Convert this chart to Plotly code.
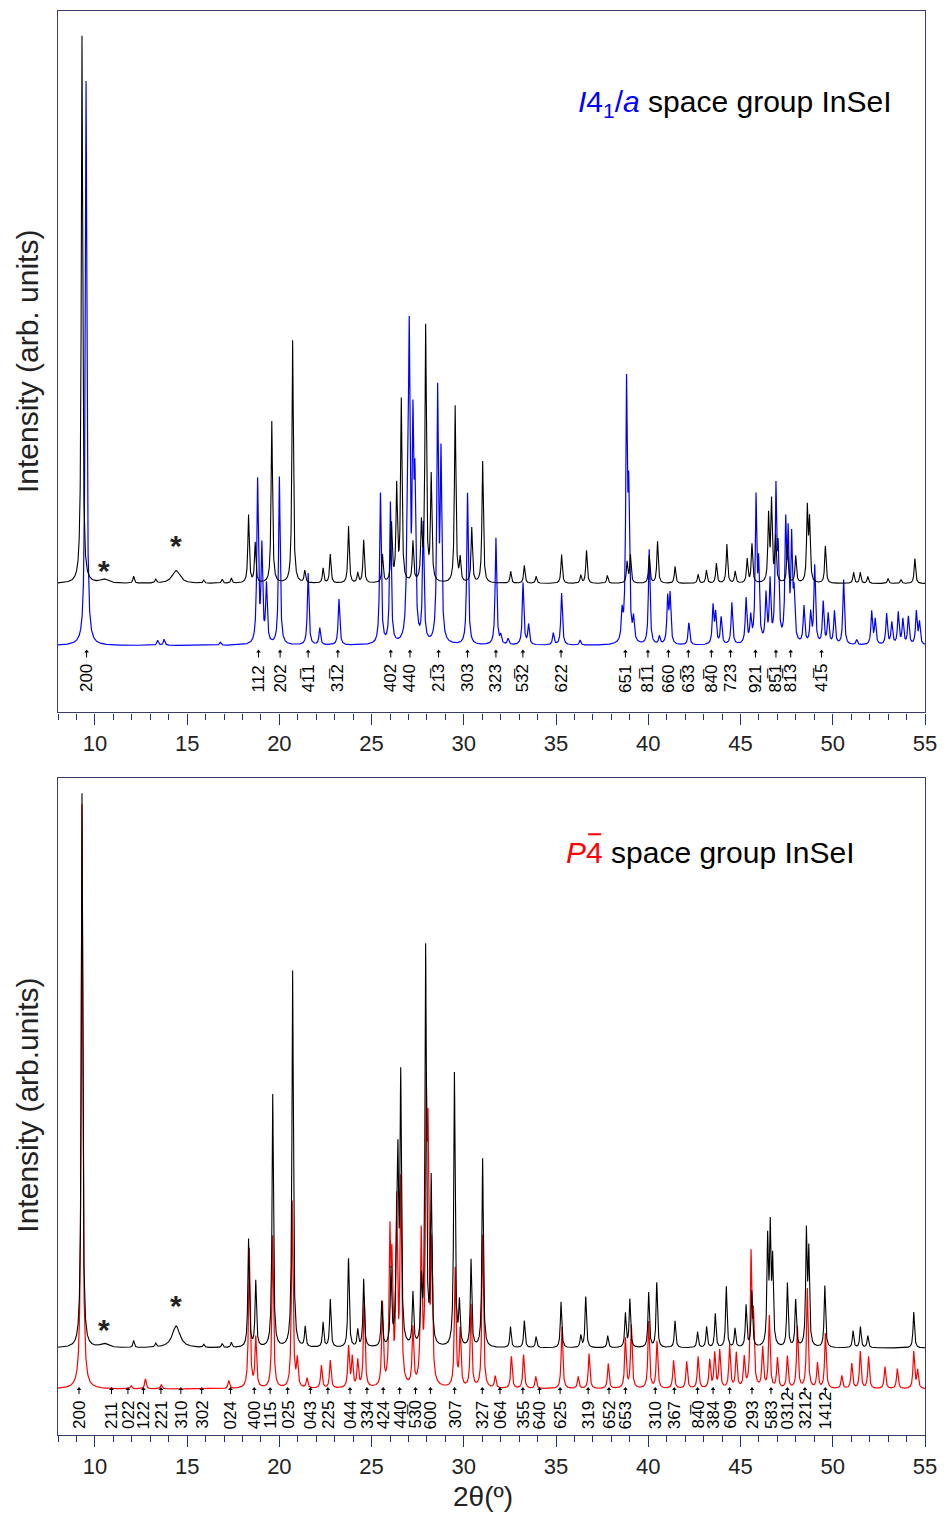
import numpy as np
import plotly.graph_objects as go

# ---------------- data (2theta in degrees, intensity in arb. units) ----------------
# Top panel, experimental pattern (black)
top_exp_pos = [9.30, 12.10, 13.30, 15.90, 16.90, 17.40, 18.33, 18.69, 19.59, 20.72, 21.38, 22.37, 22.76,
               23.75, 24.25, 24.57, 25.59, 26.08, 26.36, 26.61, 27.24, 27.70, 27.93, 28.23, 29.53, 29.80,
               30.43, 31.02, 32.54, 33.28, 33.92, 35.30, 36.34, 36.65, 37.78, 38.85, 39.03, 40.05, 40.50,
               41.45, 42.70, 43.15, 43.69, 44.26, 44.71, 45.36, 45.62, 46.52, 46.68, 46.90, 47.54, 47.99,
               48.62, 48.74, 49.60, 51.13, 51.49, 51.90, 53.00, 53.70, 54.45]
top_exp_int = [548, 7, 4, 3, 4, 5, 68, 40, 162, 243, 12, 15, 29,
               57, 10, 43, 28, 58, 95, 182, 40, 55, 255, 105, 177, 23,
               55, 122, 12, 18, 7, 29, 8, 33, 8, 21, 28, 28, 42,
               17, 9, 13, 20, 39, 12, 24, 39, 66, 80, 45, 38, 27,
               73, 60, 37, 11, 11, 7, 5, 4, 25]
top_exp_broad_pos = [10.50, 14.40]
top_exp_broad_int = [4, 13]

# Top panel, calculated I4_1/a pattern (blue)
top_calc_pos = [9.52, 13.40, 13.75, 16.80, 18.82, 19.05, 19.30, 20.00, 21.56, 22.19, 23.23, 25.48, 26.02,
                26.94, 27.04, 27.24, 27.35, 27.80, 28.58, 28.76, 30.20, 31.74, 32.00, 32.40, 33.21, 33.51,
                34.85, 35.30, 36.30, 38.58, 38.82, 38.94, 39.20, 40.05, 40.60, 41.05, 41.18, 42.20, 43.51,
                43.65, 43.95, 44.53, 45.30, 45.55, 45.84, 45.98, 46.38, 46.60, 46.92, 47.04, 47.45, 47.58,
                47.77, 47.90, 48.44, 48.80, 49.02, 49.48, 49.75, 50.09, 50.59, 51.30, 52.11, 52.30, 52.92,
                53.20, 53.55, 53.80, 54.10, 54.53, 54.70]
top_calc_int = [565, 5, 6, 3, 163, 95, 58, 168, 72, 17, 46, 151, 141,
                115, 290, 200, 140, 118, 248, 183, 152, 107, 8, 6, 62, 20,
                12, 52, 5, 27, 250, 135, 22, 95, 8, 45, 48, 22, 38,
                30, 27, 42, 45, 25, 142, 73, 47, 60, 148, 80, 112, 98,
                100, 45, 37, 30, 78, 42, 30, 33, 65, 5, 33, 25, 31,
                22, 32, 25, 28, 33, 22]

# Bottom panel, experimental pattern (black)
bot_exp_pos = [9.30, 12.10, 13.30, 15.90, 16.90, 17.40, 18.33, 18.72, 19.64, 20.72, 21.40, 22.37, 22.76,
               23.75, 24.25, 24.57, 25.55, 26.05, 26.36, 26.43, 26.58, 27.24, 27.70, 27.93, 28.23, 29.49,
               29.76, 30.39, 31.02, 32.53, 33.28, 33.92, 35.27, 36.34, 36.61, 37.80, 38.76, 39.00, 40.02,
               40.46, 41.45, 42.67, 43.16, 43.63, 44.23, 44.70, 45.30, 45.61, 46.47, 46.61, 46.74, 47.54,
               47.99, 48.57, 48.70, 49.57, 51.10, 51.50, 51.90, 54.39]
bot_exp_int = [555, 7, 4, 3, 4, 5, 108, 66, 253, 377, 20, 25, 48,
               89, 17, 68, 45, 75, 118, 150, 262, 52, 60, 398, 165, 274,
               42, 87, 189, 21, 27, 11, 46, 12, 51, 12, 34, 48, 55,
               65, 27, 16, 21, 34, 61, 19, 42, 56, 104, 112, 82, 64,
               47, 112, 92, 62, 17, 21, 12, 36]
bot_exp_broad_pos = [10.50, 14.40]
bot_exp_broad_int = [4, 22]

# Bottom panel, calculated P-4 pattern (red)
bot_calc_pos = [9.30, 11.97, 12.74, 13.60, 17.26, 18.37, 18.72, 19.64, 20.70, 20.97, 21.50, 22.28, 22.76,
                23.75, 23.95, 24.25, 24.60, 25.59, 25.99, 26.10, 26.36, 26.58, 27.24, 27.69, 27.96, 28.06,
                28.26, 29.53, 29.80, 30.39, 31.02, 31.70, 32.58, 33.24, 33.90, 35.32, 36.20, 36.79, 37.83,
                38.76, 39.08, 40.02, 40.47, 41.37, 42.08, 42.70, 43.33, 43.60, 43.87, 44.41, 44.77, 45.20,
                45.57, 45.70, 46.20, 46.56, 47.00, 47.54, 48.08, 48.62, 49.17, 49.60, 50.49, 51.03, 51.49,
                51.94, 52.83, 53.50, 54.39, 54.60]
bot_calc_int = [585, 3, 10, 4, 8, 140, 50, 153, 187, 27, 10, 23, 28,
                41, 30, 27, 90, 83, 142, 110, 180, 202, 57, 148, 263, 215,
                133, 119, 57, 83, 153, 12, 32, 34, 12, 62, 12, 35, 25,
                50, 63, 67, 47, 28, 27, 32, 28, 35, 38, 43, 35, 30,
                130, 65, 40, 72, 30, 32, 62, 100, 25, 55, 13, 25, 37,
                32, 22, 20, 37, 18]

# Miller-index markers
top_hkl_pos = [9.55, 18.87, 20.04, 21.56, 23.17, 26.04, 27.08, 28.63, 30.20, 31.74, 33.20, 35.27,
               38.76, 39.98, 41.09, 42.17, 43.42, 44.46, 45.81, 46.92, 47.72, 49.39]
OB = "\u0305"
top_hkl_lab = ["200", "112", "202", "41" + OB + "1", "31" + OB + "2", "402", "440", "21" + OB + "3",
               "303", "323", "53" + OB + "2", "622", "651", "81" + OB + "1", "660", "63" + OB + "3",
               "84" + OB + "0", "723", "921", "85" + OB + "1", "81" + OB + "3", "41" + OB + "5"]
bot_hkl_pos = [9.14, 10.90, 11.79, 12.63, 13.58, 14.66, 15.79, 17.35, 18.64, 19.50, 20.45, 21.68,
               22.63, 23.83, 24.75, 25.63, 26.52, 27.38, 28.19, 29.50, 31.00, 31.96, 33.20, 34.10,
               35.22, 36.74, 37.87, 38.76, 40.38, 41.41, 42.67, 43.51, 44.41, 45.62, 46.65, 47.54,
               48.49, 49.60]
bot_hkl_lab = ["200", "211", "022", "122", "221", "310", "302", "024", "400", "115", "025", "043",
               "225", "044", "334", "424", "440", "53" + OB + "0", "600", "307", "327", "064", "355",
               "640", "625", "319", "652", "653", "310", "367", "84" + OB + "0", "384", "609", "293",
               "583", "0312", "3212", "1412"]

# ---------------- styling constants ----------------
FONT = "Liberation Sans, Arial, sans-serif"
FRAME = "#3a3d72"
TICKC = "#1f2d8a"
TOP_EXP_OFF, TOP_CALC_OFF = 129, 67
BOT_EXP_OFF, BOT_CALC_OFF = 87, 46
TOP_RANGE, BOT_RANGE = 702, 657

grid = np.round(np.arange(8.0, 55.0001, 0.005), 4)


def profile(pos, inten, fwhm, bpos=(), bint=(), bfwhm=0.5):
    y = np.zeros_like(grid)
    for p, h in zip(pos, inten):
        y += h / (1.0 + ((grid - p) / (fwhm / 2.0)) ** 2)
    for p, h in zip(bpos, bint):
        y += h / (1.0 + ((grid - p) / (bfwhm / 2.0)) ** 2)
    return y


top_exp = profile(top_exp_pos, top_exp_int, 0.09, top_exp_broad_pos, top_exp_broad_int) + TOP_EXP_OFF
top_calc = profile(top_calc_pos, top_calc_int, 0.10) + TOP_CALC_OFF
bot_exp = profile(bot_exp_pos, bot_exp_int, 0.09, bot_exp_broad_pos, bot_exp_broad_int) + BOT_EXP_OFF
bot_calc = profile(bot_calc_pos, bot_calc_int, 0.10) + BOT_CALC_OFF

fig = go.Figure()
fig.add_trace(go.Scatter(x=grid, y=top_calc, mode="lines", line=dict(color="#0000ff", width=1.2),
                         xaxis="x", yaxis="y", showlegend=False, hoverinfo="skip"))
fig.add_trace(go.Scatter(x=grid, y=top_exp, mode="lines", line=dict(color="#000000", width=1.1),
                         xaxis="x", yaxis="y", showlegend=False, hoverinfo="skip"))
fig.add_trace(go.Scatter(x=grid, y=bot_calc, mode="lines", line=dict(color="#ff0000", width=1.2),
                         xaxis="x2", yaxis="y2", showlegend=False, hoverinfo="skip"))
fig.add_trace(go.Scatter(x=grid, y=bot_exp, mode="lines", line=dict(color="#000000", width=1.1),
                         xaxis="x2", yaxis="y2", showlegend=False, hoverinfo="skip"))


def arrows(pos, base, tip, xa, ya):
    xs, ys = [], []
    for p in pos:
        xs += [p, p, None]
        ys += [base, tip, None]
    fig.add_trace(go.Scatter(x=xs, y=ys, mode="lines", line=dict(color="black", width=1),
                             xaxis=xa, yaxis=ya, showlegend=False, hoverinfo="skip"))
    fig.add_trace(go.Scatter(x=pos, y=[tip] * len(pos), mode="markers",
                             marker=dict(symbol="triangle-up", size=4, color="black"),
                             xaxis=xa, yaxis=ya, showlegend=False, hoverinfo="skip"))


arrows(top_hkl_pos, 55, 61, "x", "y")
arrows(bot_hkl_pos, 41, 46, "x2", "y2")

ann = []
for p, lab in zip(top_hkl_pos, top_hkl_lab):
    ann.append(dict(x=p, y=18, xref="x", yref="y", text=lab, showarrow=False, textangle=-90,
                    xanchor="center", yanchor="bottom", font=dict(family=FONT, size=17, color="black")))
for p, lab in zip(bot_hkl_pos, bot_hkl_lab):
    ann.append(dict(x=p, y=4, xref="x2", yref="y2", text=lab, showarrow=False, textangle=-90,
                    xanchor="center", yanchor="bottom", font=dict(family=FONT, size=17, color="black")))

# asterisks (impurity peaks)
for (xx, yy, ya) in [(10.5, 142, "y"), (14.4, 167, "y"), (10.5, 106, "y2"), (14.4, 130, "y2")]:
    ann.append(dict(x=xx, y=yy, xref="x" if ya == "y" else "x2", yref=ya, text="<b>*</b>",
                    showarrow=False, xanchor="center", yanchor="middle",
                    font=dict(family=FONT, size=30, color="#222222")))

# panel titles
ann.append(dict(x=0.7806, y=609, xref="paper", yref="y", showarrow=False, xanchor="center",
                yanchor="middle", font=dict(family=FONT, size=30, color="black"),
                text="<span style='color:#0000ff'><i>I</i>4<sub>1</sub>/<i>a</i></span> space group InSeI"))
ann.append(dict(x=0.753, y=583, xref="paper", yref="y2", showarrow=False, xanchor="center",
                yanchor="middle", font=dict(family=FONT, size=30, color="black"),
                text="<span style='color:#ff0000'><i>P</i>4</span> space group InSeI"))

# axis titles
ann.append(dict(x=-0.0354, y=0.7537, xref="paper", yref="paper", showarrow=False, textangle=-90,
                xanchor="center", yanchor="middle", text="Intensity (arb. units)",
                font=dict(family=FONT, size=30, color="#222222")))
ann.append(dict(x=-0.0354, y=0.2315, xref="paper", yref="paper", showarrow=False, textangle=-90,
                xanchor="center", yanchor="middle", text="Intensity (arb.units)",
                font=dict(family=FONT, size=30, color="#222222")))
ann.append(dict(x=0.490, y=-0.0435, xref="paper", yref="paper", showarrow=False,
                xanchor="center", yanchor="middle", text="2θ(º)",
                font=dict(family=FONT, size=28, color="#222222")))

# bar of the "4-bar" in the P-4 symbol
shapes = [dict(type="line", xref="paper", yref="y2", x0=0.6115, x1=0.6265, y0=601, y1=601,
               line=dict(color="#ff0000", width=2))]

xcommon = dict(range=[8, 55], showline=True, mirror=True, linecolor=FRAME, linewidth=1.2,
               ticks="outside", ticklen=11, tickwidth=1.2, tickcolor=TICKC, tick0=0, dtick=5,
               minor=dict(dtick=1, tick0=0, ticks="outside", ticklen=6, tickwidth=1, tickcolor=TICKC),
               tickfont=dict(family=FONT, size=22, color="#222222"), showgrid=False, zeroline=False)
ycommon = dict(showline=True, mirror=True, linecolor=FRAME, linewidth=1.2, showticklabels=False,
               ticks="", showgrid=False, zeroline=False)

fig.update_layout(
    width=947, height=1515, autosize=False,
    margin=dict(l=58, r=14, t=10, b=80),
    paper_bgcolor="white", plot_bgcolor="white",
    xaxis=dict(anchor="y", domain=[0, 1], **xcommon),
    yaxis=dict(anchor="x", domain=[0.5074, 1.0], range=[0, TOP_RANGE], **ycommon),
    xaxis2=dict(anchor="y2", domain=[0, 1], **xcommon),
    yaxis2=dict(anchor="x2", domain=[0, 0.4611], range=[0, BOT_RANGE], **ycommon),
    annotations=ann,
    shapes=shapes,
)

fig.write_html("out.html",
               config={"responsive": False, "displayModeBar": False},
               post_script="document.body.style.margin='0';document.body.style.overflow='hidden';")
